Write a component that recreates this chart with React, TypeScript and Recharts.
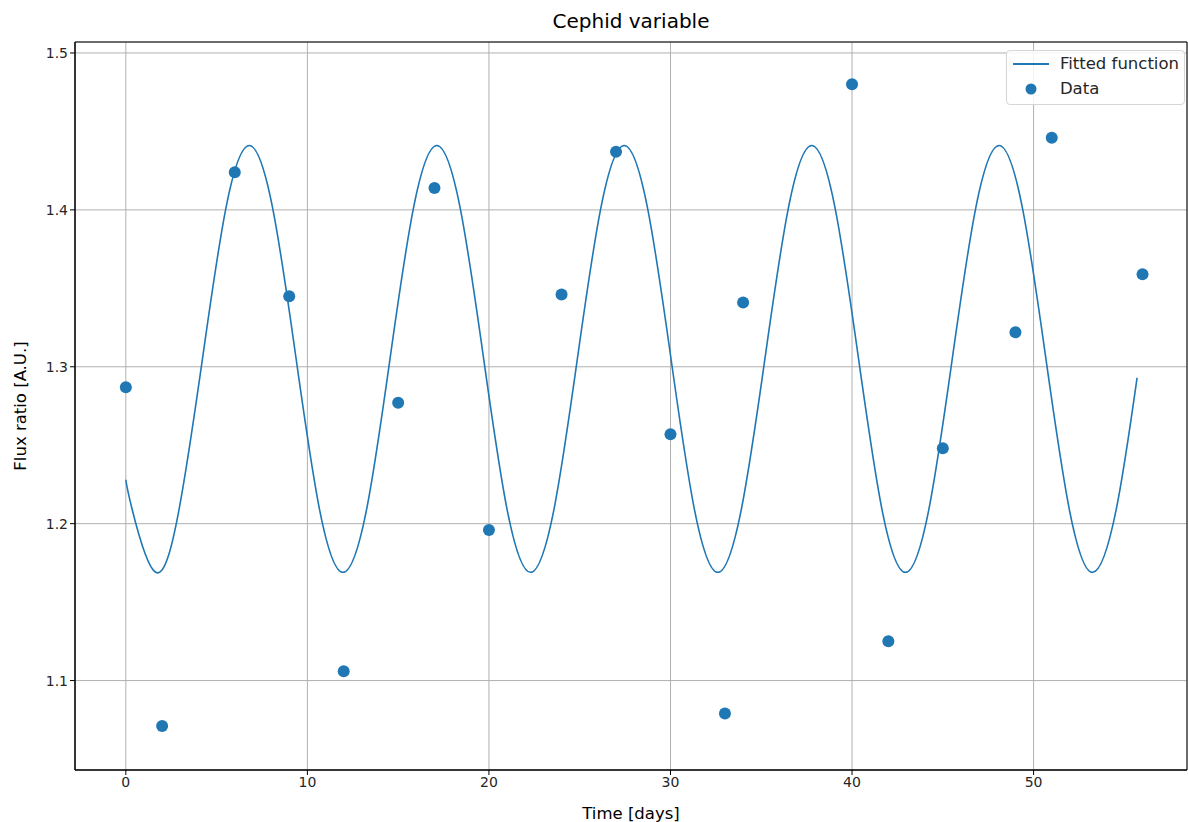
import React from "react";
import {
  ComposedChart,
  Line,
  Scatter,
  XAxis,
  YAxis,
  CartesianGrid,
  ReferenceArea,
} from "recharts";

// fitted curve (days, flux ratio)
const fitDays = [
  0, 0.35, 1.64, 2.93, 4.22, 5.51, 6.8, 8.09, 9.38, 10.67, 11.96, 13.26, 14.55, 15.84,
  17.13, 18.42, 19.71, 21.0, 22.29, 23.58, 24.87, 26.16, 27.45, 28.74, 30.03, 31.32,
  32.61, 33.9, 35.2, 36.49, 37.78, 39.07, 40.36, 41.65, 42.94, 44.23, 45.52, 46.81,
  48.1, 49.39, 50.68, 51.97, 53.26, 54.55, 55.7,
];
const fitFlux = [
  1.228, 1.209, 1.169, 1.209, 1.305, 1.401, 1.441, 1.401, 1.305, 1.209, 1.169, 1.209,
  1.305, 1.401, 1.441, 1.401, 1.305, 1.209, 1.169, 1.209, 1.305, 1.401, 1.441, 1.401,
  1.305, 1.209, 1.169, 1.209, 1.305, 1.401, 1.441, 1.401, 1.305, 1.209, 1.169, 1.209,
  1.305, 1.401, 1.441, 1.401, 1.305, 1.209, 1.169, 1.209, 1.293,
];

// measured points
const dataDays = [0, 2, 6, 9, 12, 15, 17, 20, 24, 27, 30, 33, 34, 40, 42, 45, 49, 51, 56];
const dataFlux = [
  1.287, 1.071, 1.424, 1.345, 1.106, 1.277, 1.414, 1.196, 1.346, 1.437, 1.257, 1.079,
  1.341, 1.48, 1.125, 1.248, 1.322, 1.446, 1.359,
];

const xTicks = [0, 10, 20, 30, 40, 50];
const yTicks = [1.1, 1.2, 1.3, 1.4, 1.5];

const BLUE = "#1f77b4";
const FONT = "'DejaVu Sans', sans-serif";

const fitData = fitDays.map((x, i) => ({ x, y: fitFlux[i] }));
const pointData = dataDays.map((x, i) => ({ x, y: dataFlux[i] }));

function LegendBox() {
  return (
    <div
      style={{
        position: "absolute",
        top: 50,
        right: 3,
        background: "rgba(255,255,255,0.85)",
        border: "1px solid #d6d6d6",
        borderRadius: 4,
        padding: "0px 5px 3px 4px",
        fontFamily: FONT,
        fontSize: 16.5,
        color: "#262626",
        lineHeight: "25px",
      }}
    >
      <div style={{ display: "flex", alignItems: "center" }}>
        <svg width={40} height={12} style={{ marginRight: 9 }}>
          <line x1={2} y1={6} x2={38} y2={6} stroke={BLUE} strokeWidth={2} />
        </svg>
        Fitted function
      </div>
      <div style={{ display: "flex", alignItems: "center" }}>
        <svg width={40} height={12} style={{ marginRight: 9 }}>
          <circle cx={20} cy={6} r={5.5} fill={BLUE} />
        </svg>
        Data
      </div>
    </div>
  );
}

export default function App() {
  return (
    <div style={{ position: "absolute", left: 0, top: 0, width: 1188, height: 822, background: "#fff" }}>
      <div
        style={{
          position: "absolute",
          top: 9,
          left: 75,
          width: 1112,
          textAlign: "center",
          fontFamily: FONT,
          fontSize: 20,
          color: "#000",
        }}
      >
        Cephid variable
      </div>
      <ComposedChart
        width={1188}
        height={822}
        margin={{ top: 42, right: 1, left: 15, bottom: 0 }}
        style={{ fontFamily: FONT }}
      >
        <CartesianGrid stroke="#b0b0b0" strokeWidth={1} />
        <XAxis
          dataKey="x"
          type="number"
          domain={[-2.8, 58.45]}
          ticks={xTicks}
          allowDataOverflow
          height={52}
          tickSize={5}
          tickLine={{ stroke: "#000" }}
          axisLine={{ stroke: "#000" }}
          tick={{ fill: "#262626", fontSize: 14 }}
          label={{ value: "Time [days]", position: "insideBottom", offset: 3, fill: "#000", fontSize: 16.5 }}
        />
        <YAxis
          dataKey="y"
          type="number"
          domain={[1.043, 1.507]}
          ticks={yTicks}
          allowDataOverflow
          width={60}
          tickSize={5}
          tickLine={{ stroke: "#000" }}
          axisLine={{ stroke: "#000" }}
          tick={{ fill: "#262626", fontSize: 14 }}
          tickFormatter={(v: number) => v.toFixed(1)}
          label={{
            value: "Flux ratio [A.U.]",
            angle: -90,
            position: "insideLeft",
            offset: 5,
            style: { textAnchor: "middle" },
            fill: "#000",
            fontSize: 16.5,
          }}
        />
        <ReferenceArea x1={-2.8} x2={58.45} y1={1.043} y2={1.507} fill="none" stroke="#000" strokeWidth={1} />
        <Line
          data={fitData}
          dataKey="y"
          type="natural"
          stroke={BLUE}
          strokeWidth={1.6}
          dot={false}
          activeDot={false}
          isAnimationActive={false}
          name="Fitted function"
        />
        <Scatter
          data={pointData}
          dataKey="y"
          fill={BLUE}
          isAnimationActive={false}
          name="Data"
          shape={(p: any) => <circle cx={p.cx} cy={p.cy} r={6} fill={BLUE} />}
        />
      </ComposedChart>
      <LegendBox />
    </div>
  );
}
